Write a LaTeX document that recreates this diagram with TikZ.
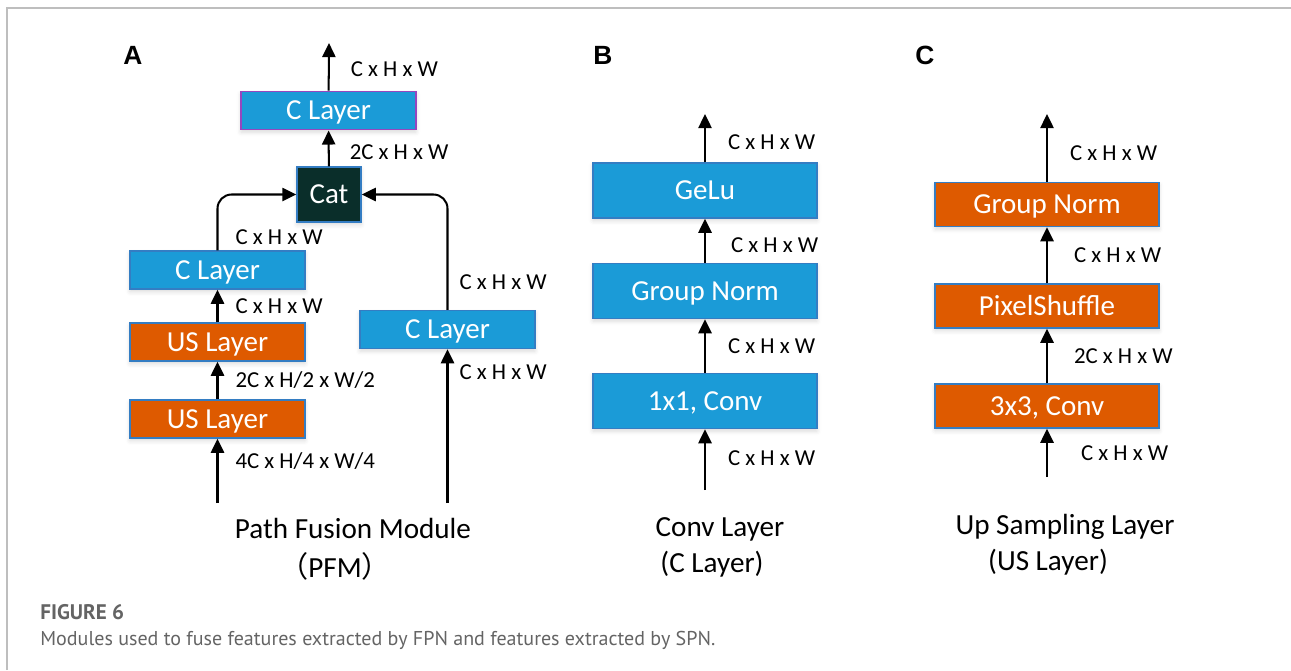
\documentclass[tikz,border=0pt]{standalone}
\usepackage{fontspec}
\setmainfont{Carlito}
\newfontfamily\letterfont{Liberation Sans}
\newfontfamily\captionfont{PT Sans}
\newfontfamily\cjk{Noto Sans CJK SC}
\usetikzlibrary{arrows.meta,positioning,shadows.blur}

\definecolor{layerblue}{RGB}{27,155,215}
\definecolor{layerorange}{RGB}{222,90,0}
\definecolor{edgeblue}{RGB}{52,125,195}
\definecolor{catgreen}{RGB}{10,46,42}
\definecolor{topviolet}{RGB}{150,70,190}
\definecolor{framegray}{RGB}{190,190,190}
\definecolor{capgray}{RGB}{100,100,100}

\tikzset{
  %% Layer blocks
  cblk/.style={draw=edgeblue, fill=layerblue, line width=0.8pt, text=white,
    minimum width=3.5cm, minimum height=0.76cm, inner sep=0pt,
    text height=14pt, text depth=3.2pt,
    font=\fontsize{16.5}{18}\selectfont,
    blur shadow={shadow xshift=0pt, shadow yshift=-1.5pt,
      shadow blur radius=2.5pt, shadow opacity=15}},
  usblk/.style={cblk, fill=layerorange},
  cvioblk/.style={cblk, draw=topviolet, line width=1.1pt},
  catblk/.style={cblk, fill=catgreen, minimum width=1.28cm, minimum height=1.1cm},
  wideblk/.style={cblk, minimum width=4.48cm, minimum height=1.1cm},
  wideus/.style={wideblk, fill=layerorange, minimum height=0.88cm},
  %% Arrows and labels
  flow/.style={-{Triangle[length=8pt,width=7.5pt]}, line width=1.15pt},
  dim/.style={anchor=west, inner sep=0pt, xshift=0.44cm,
    font=\fontsize{13}{15}\selectfont},
  letter/.style={font=\letterfont\bfseries\fontsize{15}{17}\selectfont},
  title/.style={font=\fontsize{16.6}{19}\selectfont},
}

\begin{document}
\begin{tikzpicture}[x=0.02cm, y=-0.02cm]
\useasboundingbox (0,0) rectangle (1291,670);

%% Frame lines
\draw[framegray, line width=0.9pt] (7,670) -- (7,8) -- (1291,8);

%% ---------------- A: path fusion module ----------------
\node[letter] (labA) at (133,55) {A};
\node[cvioblk] (clTop)   at (328.5,110.5) {C Layer};
\node[catblk]  (cat)     at (329,194.5)   {Cat};
\node[cblk]    (clLeft)  at (217.5,270)   {C Layer};
\node[usblk]   (usUp)    at (217.5,342)   {US Layer};
\node[usblk]   (usLow)   at (217.5,419)   {US Layer};
\node[cblk]    (clRight) at (447.5,329.5) {C Layer};
\coordinate (outA)  at (329,43);
\coordinate (inA1)  at (217.5,503);
\coordinate (inA2)  at (447.5,503);

\draw[flow] (inA1) -- node[dim, xshift=-0.1cm, pos=.66] (dA1) {4C x H/4 x W/4} (usLow);
\draw[flow] (usLow) -- node[dim, xshift=-0.1cm] (dA2) {2C x H/2 x W/2} (usUp);
\draw[flow] (usUp) -- node[dim, xshift=-0.1cm] (dA3) {C x H x W} (clLeft);
\draw[flow, rounded corners=8pt] (clLeft.north) |- node[dim, xshift=-0.1cm, pos=.12] (dA4) {C x H x W} (cat.west);
\draw[flow] (inA2) -- node[dim, xshift=-0.22cm, pos=.85] (dA5) {C x H x W} (clRight);
\draw[flow, rounded corners=8pt] (clRight.north) |- node[dim, xshift=-0.22cm, pos=.12] (dA6) {C x H x W} (cat.east);
\draw[flow] (cat) -- node[dim, xshift=-0.04cm, pos=.4] (dA7) {2C x H x W} (clTop);
\draw[flow] (clTop) -- node[dim, xshift=-0.02cm, pos=.44] (dA8) {C x H x W} (outA);

\node[title] (tA1) at (353,528) {Path Fusion Module};
\node[title] (tA2) at (335,566) {{\cjk （}PFM{\cjk ）}};

%% ---------------- B: conv layer ----------------
\node[letter] (labB) at (603,55) {B};
\node[wideblk] (gelu)  at (705,190.5) {GeLu};
\node[wideblk] (gnB)   at (705,291)   {Group Norm};
\node[wideblk] (convB) at (705,401)   {1x1, Conv};
\coordinate (outB) at (705,114);
\coordinate (inB)  at (705,490);

\draw[flow] (inB) -- node[dim, pos=.52] (dB1) {C x H x W} (convB);
\draw[flow] (convB) -- node[dim] (dB2) {C x H x W} (gnB);
\draw[flow] (gnB) -- node[dim, xshift=0.06cm, pos=.4] (dB3) {C x H x W} (gelu);
\draw[flow] (gelu) -- node[dim, pos=.42] (dB4) {C x H x W} (outB);

\node[title] (tB1) at (720,529) {Conv Layer};
\node[title] (tB2) at (712,564) {(C Layer)};

%% ---------------- C: up sampling layer ----------------
\node[letter] (labC) at (925,55) {C};
\node[wideus] (gnC)    at (1047,204.5) {Group Norm};
\node[wideus] (pshuf)  at (1047,306)   {PixelShuffle};
\node[wideus] (convC)  at (1047,406)   {3x3, Conv};
\coordinate (outC) at (1047,114);
\coordinate (inC)  at (1047,477);

\draw[flow] (inC) -- node[dim, xshift=0.22cm, pos=.5] (dC1) {C x H x W} (convC);
\draw[flow] (convC) -- node[dim, xshift=0.08cm] (dC2) {2C x H x W} (pshuf);
\draw[flow] (pshuf) -- node[dim, xshift=0.08cm] (dC3) {C x H x W} (gnC);
\draw[flow] (gnC) -- node[dim, pos=.42] (dC4) {C x H x W} (outC);

\node[title] (tC1) at (1065,527) {Up Sampling Layer};
\node[title] (tC2) at (1048,562) {(US Layer)};

%% Caption
\node[anchor=west, inner sep=0pt, text=capgray,
  font=\captionfont\bfseries\fontsize{12}{14}\selectfont] (figno) at (40,612) {FIGURE 6};
\node[anchor=west, inner sep=0pt, text=capgray,
  font=\captionfont\fontsize{11.4}{14}\selectfont] (figcap) at (40,640)
  {Modules used to fuse features extracted by FPN and features extracted by SPN.};
\end{tikzpicture}
\end{document}
